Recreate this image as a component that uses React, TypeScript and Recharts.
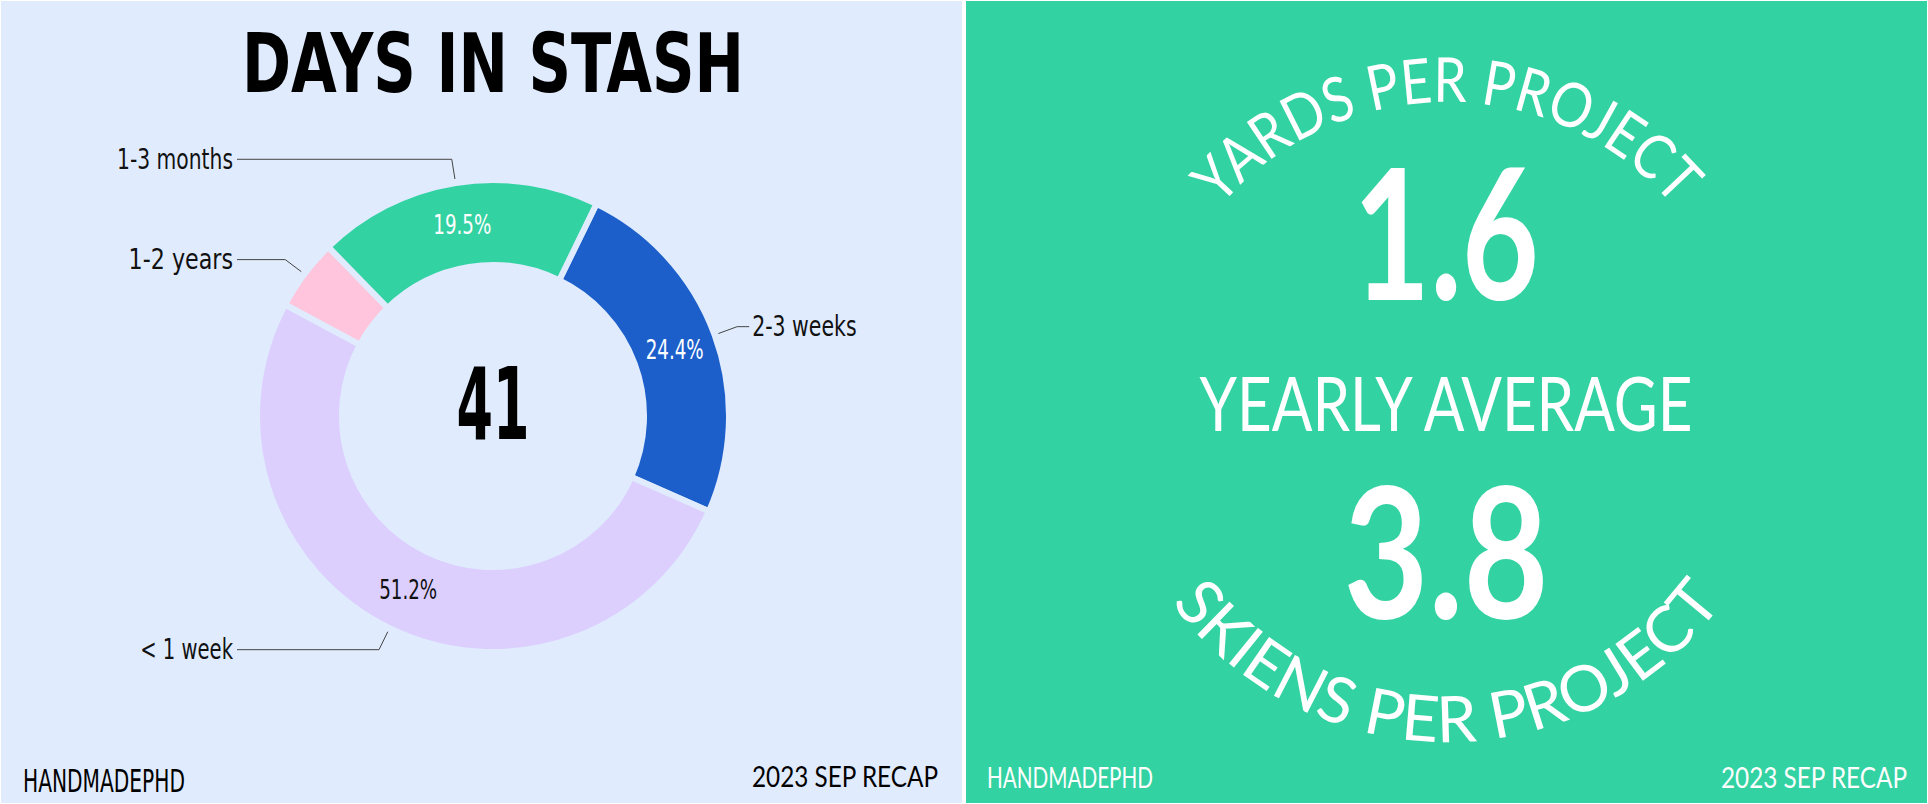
import React from "react";
import { PieChart, Pie, Cell, Label } from "recharts";

// days-in-stash breakdown (clockwise from the top right)
const stashNames = ["2-3 weeks", "< 1 week", "1-2 years", "1-3 months"];
const stashCounts = [10, 21, 2, 8];
const stashColors = ["#1c5fcb", "#dccffe", "#fec5dc", "#33d2a2"];
const percentInk = ["#ffffff", "#111111", "#111111", "#ffffff"];

// yearly average card
const statHeadings = ["YARDS PER PROJECT", "SKIENS PER PROJECT"];
const statValues = ["1.6", "3.8"];
const statMiddle = "YEARLY AVERAGE";

const footerLeft = "HANDMADEPHD";
const footerRight = "2023 SEP RECAP";

const BG = "#e0ecfe";
const GREEN = "#33d2a2";
const NARROW = "'Liberation Sans Narrow', 'DejaVu Sans Condensed', 'Roboto', sans-serif";
const ROUND = "Lato, 'Open Sans', sans-serif";
const RADIAN = Math.PI / 180;
// the hand-drawn font is narrow, squeeze label text to roughly that width
const CHAR_W = 11.6;

const stashData = stashNames.map((name, i) => ({ name, value: stashCounts[i] }));
const stashTotal = stashCounts.reduce((a, b) => a + b, 0);

function renderStashLabel(props: any) {
  const { cx, cy, midAngle, innerRadius, outerRadius, percent, index } = props;
  const name: string = props.name ?? props.payload?.name ?? "";
  const cos = Math.cos(-midAngle * RADIAN);
  const sin = Math.sin(-midAngle * RADIAN);
  const midR = (innerRadius + outerRadius) / 2;
  const px = cx + midR * cos;
  const py = cy + midR * sin;
  const sx = cx + (outerRadius + 4) * cos;
  const sy = cy + (outerRadius + 4) * sin;
  const ex = cx + (outerRadius + 24) * cos;
  const ey = cy + (outerRadius + 24) * sin;
  const right = cos >= 0;
  const lx = right ? ex + 12 : cx - 256;
  const pct = `${(percent * 100).toFixed(1)}%`;
  return (
    <g>
      {percent > 0.1 && (
        <text
          x={px}
          y={py}
          textAnchor="middle"
          dominantBaseline="central"
          fill={percentInk[index]}
          fontFamily={NARROW}
          fontSize={27}
          textLength={pct.length * CHAR_W}
          lengthAdjust="spacingAndGlyphs"
        >
          {pct}
        </text>
      )}
      <polyline
        points={`${sx},${sy} ${ex},${ey} ${lx},${ey}`}
        fill="none"
        stroke="#444"
        strokeWidth={1}
      />
      <text
        x={right ? lx + 3 : lx - 4}
        y={ey}
        textAnchor={right ? "start" : "end"}
        dominantBaseline="central"
        fill="#111"
        fontFamily={NARROW}
        fontSize={28}
        textLength={name.length * CHAR_W}
        lengthAdjust="spacingAndGlyphs"
      >
        {name}
      </text>
    </g>
  );
}

function StashPanel() {
  return (
    <>
      <div style={{ position: "absolute", left: 1, top: 1, width: 961, height: 802, background: BG }} />
      <div style={{ position: "absolute", left: 0, top: 0 }}>
        <PieChart width={962} height={804} margin={{ top: 0, right: 0, bottom: 0, left: 0 }}>
          <Pie
            data={stashData}
            dataKey="value"
            nameKey="name"
            cx={493}
            cy={416}
            innerRadius={151}
            outerRadius={236}
            startAngle={64}
            endAngle={-296}
            stroke={BG}
            strokeWidth={6}
            label={renderStashLabel}
            labelLine={false}
            isAnimationActive={false}
          >
            {stashData.map((d, i) => (
              <Cell key={d.name} fill={stashColors[i]} />
            ))}
            <Label
              position="center"
              content={(p: any) => {
                const vb = p.viewBox || {};
                return (
                  <text
                    x={vb.cx ?? 493}
                    y={(vb.cy ?? 416) + 23}
                    textAnchor="middle"
                    fill="#000"
                    fontFamily={NARROW}
                    fontWeight={700}
                    fontSize={100}
                    textLength={73}
                    lengthAdjust="spacingAndGlyphs"
                  >
                    {stashTotal}
                  </text>
                );
              }}
            />
          </Pie>
        </PieChart>
      </div>
      <svg
        width={962}
        height={804}
        style={{ position: "absolute", left: 0, top: 0, pointerEvents: "none" }}
      >
        <text
          x={493}
          y={92}
          textAnchor="middle"
          fill="#000"
          fontFamily={NARROW}
          fontWeight={700}
          fontSize={82}
          textLength={502}
          lengthAdjust="spacingAndGlyphs"
        >
          DAYS IN STASH
        </text>
        <text x={23} y={792} fill="#000" fontFamily={NARROW} fontSize={32} textLength={162} lengthAdjust="spacingAndGlyphs">
          {footerLeft}
        </text>
        <text
          x={938}
          y={787}
          textAnchor="end"
          fill="#000"
          fontFamily={ROUND}
          fontSize={28}
          textLength={186}
          lengthAdjust="spacingAndGlyphs"
        >
          {footerRight}
        </text>
      </svg>
    </>
  );
}

function AveragePanel() {
  const cx = 481;
  const cy = 400;
  const rTop = 298;
  const rBottom = 342;
  return (
    <>
      <div style={{ position: "absolute", left: 966, top: 1, width: 961, height: 802, background: GREEN }} />
      <svg width={962} height={804} style={{ position: "absolute", left: 966, top: 0 }}>
        <defs>
          <path id="arcTop" d={`M ${cx - rTop} ${cy} A ${rTop} ${rTop} 0 0 1 ${cx + rTop} ${cy}`} />
          <path id="arcBottom" d={`M ${cx - rBottom} ${cy} A ${rBottom} ${rBottom} 0 0 0 ${cx + rBottom} ${cy}`} />
        </defs>
        <g fill="#fff" fontFamily={ROUND}>
          <text fontSize={62}>
            <textPath href="#arcTop" startOffset="50%" textAnchor="middle" textLength={515} lengthAdjust="spacingAndGlyphs">
              {statHeadings[0]}
            </textPath>
          </text>
          <text fontSize={64}>
            <textPath href="#arcBottom" startOffset="50%" textAnchor="middle" textLength={640} lengthAdjust="spacingAndGlyphs">
              {statHeadings[1]}
            </textPath>
          </text>
          <text x={480} y={300} textAnchor="middle" fontSize={183} fontWeight={700} textLength={186} lengthAdjust="spacingAndGlyphs">
            {statValues[0]}
          </text>
          <text x={480} y={431} textAnchor="middle" fontSize={75} textLength={493} lengthAdjust="spacingAndGlyphs">
            {statMiddle}
          </text>
          <text x={480} y={619} textAnchor="middle" fontSize={183} fontWeight={700} textLength={205} lengthAdjust="spacingAndGlyphs">
            {statValues[1]}
          </text>
          <text x={21} y={788} fontSize={29} textLength={166} lengthAdjust="spacingAndGlyphs">
            {footerLeft}
          </text>
          <text x={941} y={788} textAnchor="end" fontSize={29} textLength={186} lengthAdjust="spacingAndGlyphs">
            {footerRight}
          </text>
        </g>
      </svg>
    </>
  );
}

export default function App() {
  return (
    <div
      style={{
        position: "absolute",
        left: 0,
        top: 0,
        width: 1928,
        height: 804,
        background: "#fff",
        overflow: "hidden",
      }}
    >
      <StashPanel />
      <AveragePanel />
    </div>
  );
}
